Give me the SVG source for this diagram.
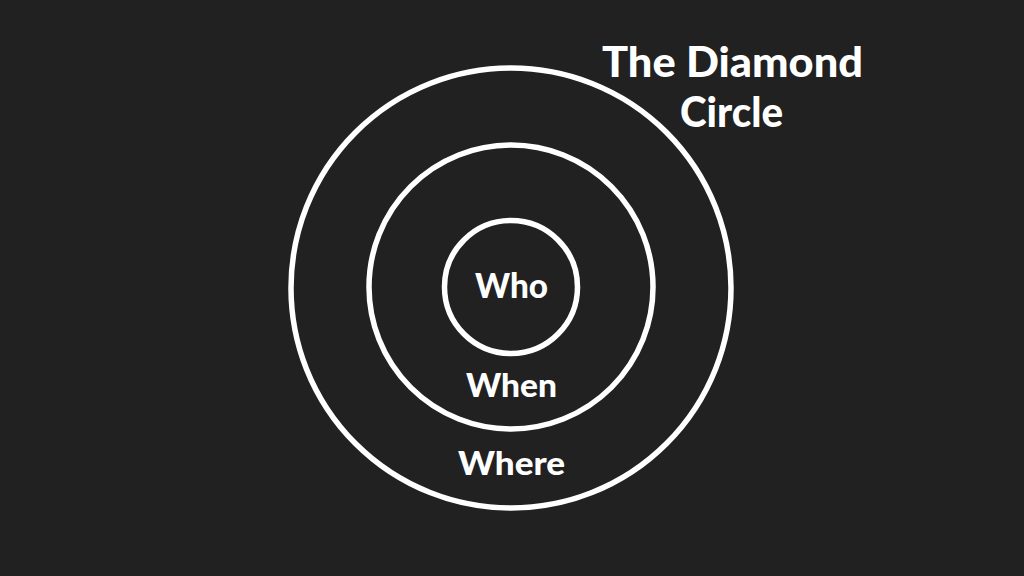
<svg xmlns="http://www.w3.org/2000/svg" width="1024" height="576" viewBox="0 0 1024 576">
<style>
.ring{fill:none;stroke:#ffffff;stroke-width:5.5}
.lbl{fill:#ffffff;font-family:Lato,"Open Sans","Liberation Sans",sans-serif;font-weight:900;text-anchor:middle}
</style>
<rect width="1024" height="576" fill="#212121"/>
<g id="outer"><circle class="ring" cx="511" cy="288" r="220"/><text class="lbl" x="511.5" y="475" font-size="33" textLength="107" lengthAdjust="spacingAndGlyphs">Where</text></g>
<g id="middle"><circle class="ring" cx="511" cy="287" r="142"/><text class="lbl" x="511.5" y="397" font-size="33" textLength="91" lengthAdjust="spacingAndGlyphs">When</text></g>
<g id="inner"><circle class="ring" cx="511" cy="287" r="66.5"/><text class="lbl" x="511.5" y="298" font-size="34" textLength="73" lengthAdjust="spacingAndGlyphs">Who</text></g>
<g id="title"><text class="lbl" x="732.5" y="77" font-size="42" textLength="261" lengthAdjust="spacingAndGlyphs">The Diamond</text><text class="lbl" x="731.5" y="127" font-size="42" textLength="103" lengthAdjust="spacingAndGlyphs">Circle</text></g>
<g id="connectors"/>
</svg>
